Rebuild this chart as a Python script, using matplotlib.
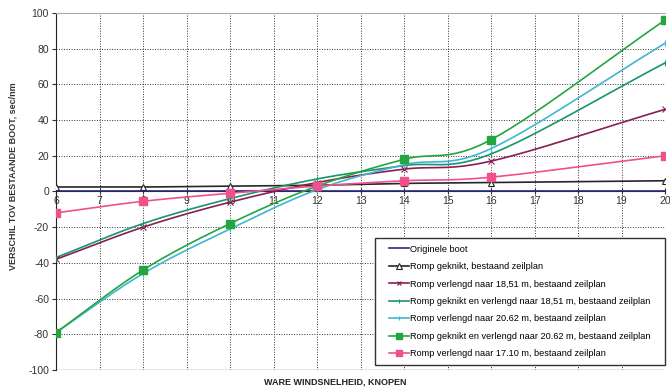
import numpy as np
import matplotlib.pyplot as plt
from matplotlib.patches import Rectangle

# windsnelheid (knopen) en verschil t.o.v. bestaande boot (sec/nm)
knopen = [6, 8, 10, 12, 14, 16, 20]
originele_boot = [0, 0, 0, 0, 0, 0, 0]
geknikt = [2.5, 2.5, 3, 3.5, 4.5, 5, 6]
verlengd_1851 = [-38, -20, -6, 5, 12.5, 17, 46]
geknikt_verlengd_1851 = [-37, -18, -4, 7, 14.5, 21, 72]
verlengd_2062 = [-79, -46, -21, 1, 15, 24, 83]
geknikt_verlengd_2062 = [-79, -44, -18, 3, 18, 29, 96]
verlengd_1710 = [-12, -5.5, -1, 3, 6, 8, 20]

labels = [
    'Originele boot',
    'Romp geknikt, bestaand zeilplan',
    'Romp verlengd naar 18,51 m, bestaand zeilplan',
    'Romp geknikt en verlengd naar 18,51 m, bestaand zeilplan',
    'Romp verlengd naar 20.62 m, bestaand zeilplan',
    'Romp geknikt en verlengd naar 20.62 m, bestaand zeilplan',
    'Romp verlengd naar 17.10 m, bestaand zeilplan',
]


# gladde lijn door de punten (Catmull-Rom, zoals "vloeiende lijn" in Excel)
def smooth(x, y, n=30):
    x = np.asarray(x, float)
    y = np.asarray(y, float)
    px = np.concatenate([[2 * x[0] - x[1]], x, [2 * x[-1] - x[-2]]])
    py = np.concatenate([[2 * y[0] - y[1]], y, [2 * y[-1] - y[-2]]])
    xs, ys = [], []
    t = np.linspace(0, 1, n)
    for i in range(1, len(px) - 2):
        p0, p1, p2, p3 = px[i - 1], px[i], px[i + 1], px[i + 2]
        q0, q1, q2, q3 = py[i - 1], py[i], py[i + 1], py[i + 2]
        c1x, c1y = p1 + (p2 - p0) / 6, q1 + (q2 - q0) / 6
        c2x, c2y = p2 - (p3 - p1) / 6, q2 - (q3 - q1) / 6
        bx = (1 - t)**3 * p1 + 3 * (1 - t)**2 * t * c1x + 3 * (1 - t) * t**2 * c2x + t**3 * p2
        by = (1 - t)**3 * q1 + 3 * (1 - t)**2 * t * c1y + 3 * (1 - t) * t**2 * c2y + t**3 * q2
        xs.append(bx)
        ys.append(by)
    return np.concatenate(xs), np.concatenate(ys)


series = [
    (originele_boot, '#26287e', None, {}),
    (geknikt, '#262626', '^', dict(markerfacecolor='white', markersize=5, markeredgewidth=0.8)),
    (verlengd_1851, '#8a1d55', 'x', dict(markersize=4, markeredgewidth=0.8)),
    (geknikt_verlengd_1851, '#17966a', '|', dict(markersize=4, markeredgewidth=0.8)),
    (verlengd_2062, '#41b6d2', '|', dict(markersize=4, markeredgewidth=0.8)),
    (geknikt_verlengd_2062, '#23a540', 's', dict(markersize=5.5)),
    (verlengd_1710, '#f0508c', 's', dict(markersize=5.5)),
]

plt.rcParams['font.family'] = ['Liberation Sans', 'DejaVu Sans']
plt.rcParams['axes.unicode_minus'] = False
fig = plt.figure(figsize=(6.7, 3.89), dpi=100)
ax = fig.add_axes([0.0836, 0.0488, 0.909, 0.918])

for (vals, col, mk, kw), lab in zip(series, labels):
    sx, sy = smooth(knopen, vals)
    ax.plot(sx, sy, color=col, lw=1.2, zorder=3)
    if mk:
        ax.plot(knopen, vals, ls='none', marker=mk, color=col, zorder=4, **kw)
    ax.plot([], [], color=col, lw=1.2, marker=mk, label=lab, **kw)

ax.set_xlim(6, 20)
ax.set_ylim(-100, 100)
ax.set_xticks(range(6, 21))
ax.set_yticks(range(-100, 101, 20))
ax.grid(True, color='#333333', ls=(0, (1, 1.6)), lw=0.7)

# categorie-as kruist bij 0
ax.spines['bottom'].set_position(('data', 0))
ax.spines['bottom'].set_color('#222222')
ax.spines['left'].set_color('#222222')
ax.spines['top'].set_color('#aaaaaa')
ax.spines['right'].set_visible(False)
ax.axhline(-100, color='#888888', lw=1, zorder=1)
ax.tick_params(axis='x', direction='inout', length=5, labelsize=7.5, pad=1, colors='#333333')
ax.tick_params(axis='y', direction='out', length=3, labelsize=7.5, pad=2, colors='#333333')

ax.set_ylabel('VERSCHIL TOV BESTAANDE BOOT, sec/nm', fontsize=6.5, fontweight='bold', color='#333333')
ax.yaxis.set_label_coords(-0.063, 0.543)
fig.text(0.5, 0.012, 'WARE WINDSNELHEID, KNOPEN', fontsize=6.5, fontweight='bold', color='#222222', ha='center')

# legendakader
ax.add_patch(Rectangle((0.524, 0.014), 0.476, 0.356, transform=ax.transAxes, facecolor='white',
                       edgecolor='#333333', lw=1, zorder=9, clip_on=False))
leg = ax.legend(loc='center', bbox_to_anchor=(0.762, 0.192), fontsize=6.6, frameon=False,
                handlelength=2.2, handletextpad=0.1, labelspacing=0.92, markerscale=0.8,
                borderpad=0)
leg.set_zorder(10)

fig.savefig('out.png', dpi=100)
